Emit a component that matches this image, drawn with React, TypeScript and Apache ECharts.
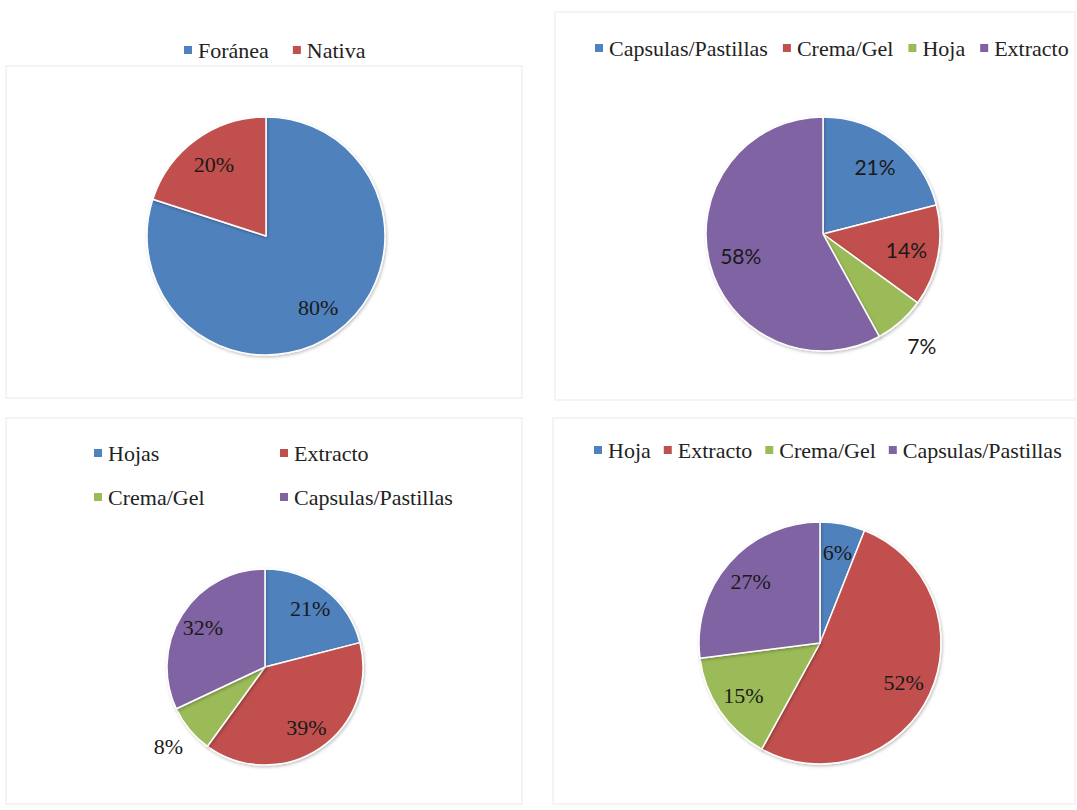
import React, { useEffect, useRef } from "react";
import * as echarts from "echarts";

// ---- Data ----
const chart1Names = ["Foránea", "Nativa"];
const chart1Values = [80, 20];

const chart2Names = ["Capsulas/Pastillas", "Crema/Gel", "Hoja", "Extracto"];
const chart2Values = [21, 14, 7, 58];
const chart2Outside = ["Hoja"];

const chart3Names = ["Hojas", "Extracto", "Crema/Gel", "Capsulas/Pastillas"];
const chart3Values = [21, 39, 8, 32];
const chart3Outside = ["Crema/Gel"];

const chart4Names = ["Hoja", "Extracto", "Crema/Gel", "Capsulas/Pastillas"];
const chart4Values = [6, 52, 15, 27];

// ---- Styles ----
const PALETTE = ["#4F81BD", "#C0504D", "#9BBB59", "#8064A2"];
const SERIF = '"Liberation Serif", "Times New Roman", serif';
const SANS = 'Lato, "Open Sans", "Liberation Sans", sans-serif';

type PieCfg = {
  names: string[];
  values: number[];
  outside: string[];
  center: [number, number];
  r: number;
  labelFont: string;
  labelSize: number;
  inner: number;
};

function pieSeries(c: PieCfg): any[] {
  const main = {
    type: "pie",
    center: c.center,
    radius: c.r,
    startAngle: 90,
    clockwise: true,
    silent: true,
    label: { show: false },
    labelLine: { show: false },
    itemStyle: {
      borderColor: "#ffffff",
      borderWidth: 1.5,
      shadowBlur: 3,
      shadowOffsetX: 1,
      shadowOffsetY: 1.5,
      shadowColor: "rgba(0,0,0,0.25)",
    },
    emphasis: { disabled: true },
    data: c.names.map((n, i) => ({
      name: n,
      value: c.values[i],
      itemStyle: { color: PALETTE[i % PALETTE.length] },
    })),
  };
  const labelSeries = (factor: number, showOutside: boolean) => ({
    type: "pie",
    center: c.center,
    radius: 2 * factor * c.r,
    startAngle: 90,
    clockwise: true,
    silent: true,
    z: 5,
    itemStyle: { color: "rgba(0,0,0,0)", borderWidth: 0 },
    emphasis: { disabled: true },
    labelLine: { show: false },
    label: {
      show: true,
      position: "inside",
      formatter: "{c}%",
      fontFamily: c.labelFont,
      fontSize: c.labelSize,
      color: "#1a1a1a",
    },
    data: c.names.map((n, i) => ({
      name: n,
      value: c.values[i],
      label: { show: c.outside.includes(n) === showOutside },
    })),
  });
  return [main, labelSeries(c.inner, false), labelSeries(1.25, true)];
}

function legendData(names: string[]) {
  return names.map((n, i) => ({
    name: n,
    itemStyle: { color: PALETTE[i % PALETTE.length] },
  }));
}

const legendBase = {
  icon: "rect",
  itemWidth: 10,
  itemHeight: 10,
  selectedMode: false,
  textStyle: {
    fontFamily: SERIF,
    fontSize: 22,
    lineHeight: 24,
    color: "#222222",
  },
  padding: 0,
};

export default function App() {
  const ref = useRef<HTMLDivElement>(null);

  useEffect(() => {
    if (!ref.current) return;
    const chart = echarts.init(ref.current, null, { renderer: "svg" });

    const series = [
      ...pieSeries({
        names: chart1Names,
        values: chart1Values,
        outside: [],
        center: [266, 236],
        r: 119,
        labelFont: SERIF,
        labelSize: 22,
        inner: 0.72,
      }),
      ...pieSeries({
        names: chart2Names,
        values: chart2Values,
        outside: chart2Outside,
        center: [823, 234],
        r: 117,
        labelFont: SANS,
        labelSize: 21,
        inner: 0.7,
      }),
      ...pieSeries({
        names: chart3Names,
        values: chart3Values,
        outside: chart3Outside,
        center: [265, 667],
        r: 98,
        labelFont: SERIF,
        labelSize: 22,
        inner: 0.72,
      }),
      ...pieSeries({
        names: chart4Names,
        values: chart4Values,
        outside: [],
        center: [820, 643],
        r: 121,
        labelFont: SERIF,
        labelSize: 22,
        inner: 0.74,
      }),
    ];

    const panelStyle = { fill: "none", stroke: "#f1f1f1", lineWidth: 1.5 };

    chart.setOption({
      animation: false,
      backgroundColor: "#ffffff",
      graphic: [
        { type: "rect", shape: { x: 6, y: 66, width: 516, height: 332 }, style: panelStyle, silent: true },
        { type: "rect", shape: { x: 555, y: 12, width: 520, height: 388 }, style: panelStyle, silent: true },
        { type: "rect", shape: { x: 6, y: 418, width: 516, height: 386 }, style: panelStyle, silent: true },
        { type: "rect", shape: { x: 553, y: 418, width: 522, height: 386 }, style: panelStyle, silent: true },
      ],
      legend: [
        { ...legendBase, left: 182, top: 38, itemGap: 22, data: legendData(chart1Names) },
        { ...legendBase, left: 593, top: 36, itemGap: 13, data: legendData(chart2Names) },
        {
          ...legendBase,
          left: 92,
          top: 441,
          orient: "vertical",
          itemGap: 20,
          data: [
            { name: chart3Names[0], itemStyle: { color: PALETTE[0] } },
            { name: chart3Names[2], itemStyle: { color: PALETTE[2] } },
          ],
        },
        {
          ...legendBase,
          left: 278,
          top: 441,
          orient: "vertical",
          itemGap: 20,
          data: [
            { name: chart3Names[1], itemStyle: { color: PALETTE[1] } },
            { name: chart3Names[3], itemStyle: { color: PALETTE[3] } },
          ],
        },
        { ...legendBase, left: 592, top: 438, itemGap: 11, data: legendData(chart4Names) },
      ],
      series,
    });

    return () => chart.dispose();
  }, []);

  return (
    <div
      ref={ref}
      style={{ position: "absolute", left: 0, top: 0, width: 1077, height: 810 }}
    />
  );
}
